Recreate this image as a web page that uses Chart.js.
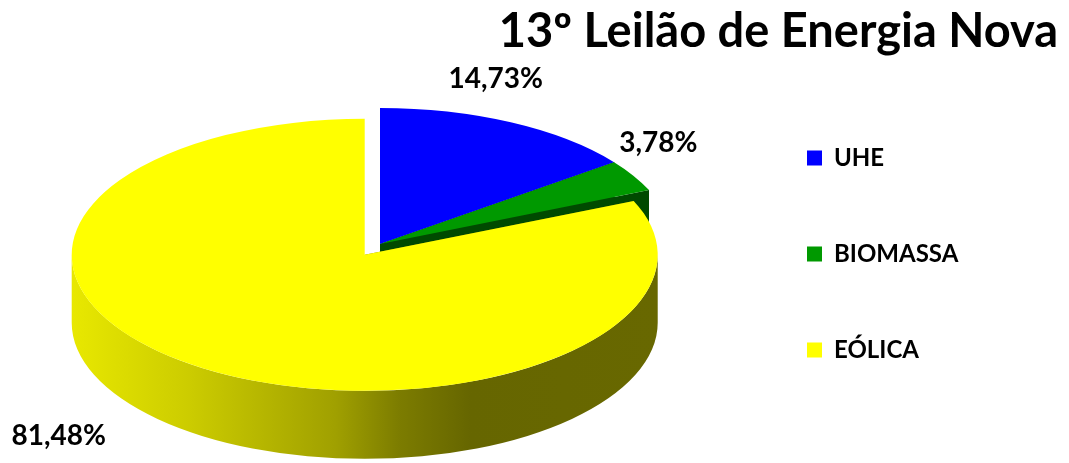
<!DOCTYPE html>
<html>
<head>
<meta charset="utf-8">
<script src="https://cdn.jsdelivr.net/npm/chart.js@4"></script>
<style>
    html, body { margin: 0; padding: 0; background: #fff; }
    #wrap { width: 1069px; height: 463px; }
</style>
</head>
<body>
<div id="wrap"><canvas id="chart"></canvas></div>
<script>
(function () {
    "use strict";

    // Data
    const categories = ["UHE", "BIOMASSA", "EÓLICA"];
    const shares = [14.73, 3.78, 81.48];
    const chartTitle = "13º Leilão de Energia Nova";

    // Look
    const topColors = ["#0000ff", "#009900", "#ffff00"];
    const sideColors = ["#00008c", "#004a00", null]; // null -> yellow gradient
    const explode = [0, 0, 0.095]; // fraction of radius
    const labelNudge = [[-15, -43], [25, -33], [-145, 68]];

    const PIE_CX = 380, PIE_CY = 244, PIE_RX = 293, PIE_RY = 136, DEPTH = 68;
    const LEGEND_X = 807, BOX = 15, LEGEND_FONT = 24;
    const FONT = "Lato";

    const measure = document.createElement("canvas").getContext("2d");
    measure.font = "bold " + LEGEND_FONT + "px " + FONT;
    const legendTextW = Math.max(...categories.map((c) => measure.measureText(c).width));
    const padRight = 1069 - LEGEND_X - 10 - (BOX + LEGEND_FONT / 2 + legendTextW);

    function view(ctx, arc, i) {
        const p = arc.getProps(["x", "y", "outerRadius", "startAngle", "endAngle"]);
        const sx = PIE_RX / p.outerRadius;
        const sy = PIE_RY / p.outerRadius;
        const mid = (p.startAngle + p.endAngle) / 2;
        const e = explode[i] * p.outerRadius;
        ctx.translate(PIE_CX, PIE_CY);
        ctx.scale(sx, sy);
        ctx.translate(Math.cos(mid) * e - p.x, Math.sin(mid) * e - p.y);
        return { p, sx, sy, mid, e };
    }

    function sideFill(ctx, p, i) {
        if (sideColors[i]) return sideColors[i];
        const g = ctx.createLinearGradient(p.x - p.outerRadius, 0, p.x + p.outerRadius, 0);
        g.addColorStop(0, "#e8e800");
        g.addColorStop(0.2, "#cccc00");
        g.addColorStop(0.45, "#a0a000");
        g.addColorStop(0.56, "#7c7c00");
        g.addColorStop(0.68, "#666600");
        g.addColorStop(1, "#686800");
        return g;
    }

    function drawSide(ctx, arc, i) {
        ctx.save();
        const v = view(ctx, arc, i);
        const { x, y, outerRadius: r, startAngle: a0, endAngle: a1 } = v.p;
        const dl = DEPTH / v.sy;
        ctx.fillStyle = sideFill(ctx, v.p, i);

        // radial faces
        [a0, a1].forEach((a) => {
            ctx.beginPath();
            ctx.moveTo(x, y);
            ctx.lineTo(x + r * Math.cos(a), y + r * Math.sin(a));
            ctx.lineTo(x + r * Math.cos(a), y + r * Math.sin(a) + dl);
            ctx.lineTo(x, y + dl);
            ctx.closePath();
            ctx.fill();
        });

        // outer wall, front half only
        [-2 * Math.PI, 0, 2 * Math.PI].forEach((k) => {
            const s = Math.max(a0, k), t = Math.min(a1, k + Math.PI);
            if (t <= s) return;
            ctx.beginPath();
            ctx.arc(x, y, r, s, t);
            ctx.arc(x, y + dl, r, t, s, true);
            ctx.closePath();
            ctx.fill();
        });
        ctx.restore();
    }

    const pie3d = {
        id: "pie3d",
        beforeDatasetsDraw(chart) {
            const ctx = chart.ctx;
            const arcs = chart.getDatasetMeta(0).data;
            arcs.forEach((arc, i) => drawSide(ctx, arc, i));
            arcs.forEach((arc, i) => {
                ctx.save();
                view(ctx, arc, i);
                arc.draw(ctx);
                ctx.restore();
            });
            return false;
        },
        afterDraw(chart) {
            const ctx = chart.ctx;
            const arcs = chart.getDatasetMeta(0).data;

            // value labels
            ctx.save();
            ctx.font = "bold 28px " + FONT;
            ctx.fillStyle = "#000";
            ctx.textAlign = "center";
            ctx.textBaseline = "middle";
            arcs.forEach((arc, i) => {
                const p = arc.getProps(["outerRadius", "startAngle", "endAngle"]);
                const mid = (p.startAngle + p.endAngle) / 2;
                const k = 1 + explode[i];
                const lx = PIE_CX + Math.cos(mid) * k * PIE_RX + labelNudge[i][0];
                const ly = PIE_CY + Math.sin(mid) * k * PIE_RY + labelNudge[i][1];
                ctx.fillText(shares[i].toFixed(2).replace(".", ",") + "%", lx, ly);
            });

            // title
            ctx.font = "bold 47px " + FONT;
            ctx.textAlign = "right";
            ctx.textBaseline = "alphabetic";
            ctx.fillText(chartTitle, chart.width - 11, 47);
            ctx.restore();
        },
    };

    new Chart(document.getElementById("chart"), {
        type: "pie",
        data: {
            labels: categories,
            datasets: [
                {
                    data: shares,
                    backgroundColor: topColors,
                    borderWidth: 0,
                },
            ],
        },
        options: {
            responsive: true,
            maintainAspectRatio: false,
            animation: false,
            events: [],
            layout: {
                padding: { top: 60, bottom: 15, left: 0, right: padRight },
            },
            plugins: {
                title: { display: false },
                tooltip: { enabled: false },
                legend: {
                    position: "right",
                    align: "center",
                    labels: {
                        boxWidth: BOX,
                        boxHeight: BOX,
                        padding: 72,
                        color: "#000",
                        font: { family: FONT, size: LEGEND_FONT, weight: "bold" },
                    },
                },
            },
        },
        plugins: [pie3d],
    });
})();
</script>
</body>
</html>
